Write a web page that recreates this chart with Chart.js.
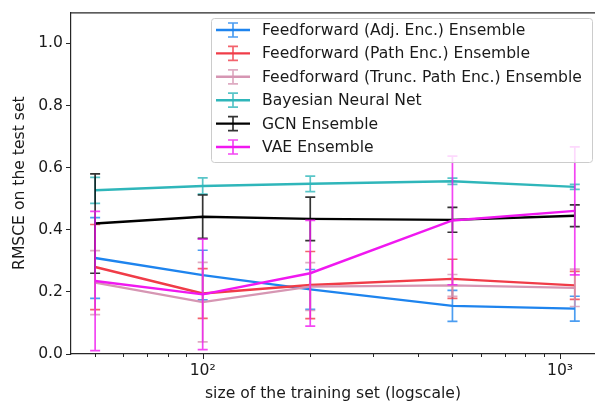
<!DOCTYPE html>
<html>
<head>
<meta charset="utf-8">
<script src="https://cdn.jsdelivr.net/npm/chart.js@4.4.1/dist/chart.umd.min.js"></script>
<style>
  html, body { margin: 0; padding: 0; background: #fff; overflow: hidden; }
  canvas { display: block; }
</style>
</head>
<body>
<canvas id="c" width="595" height="405"></canvas>
<script>
// training set sizes (x positions of every series)
var sizes = [50, 100, 200, 500, 1100];

// mean RMSCE and half-width of the error bar per model
var adjMean   = [0.309, 0.254, 0.208, 0.155, 0.146];
var adjErr    = [0.130, 0.080, 0.064, 0.050, 0.040];
var pathMean  = [0.280, 0.195, 0.222, 0.242, 0.221];
var pathErr   = [0.137, 0.080, 0.108, 0.063, 0.045];
var truncMean = [0.230, 0.167, 0.217, 0.221, 0.213];
var truncErr  = [0.103, 0.128, 0.077, 0.035, 0.060];
var bnnMean   = [0.527, 0.541, 0.548, 0.556, 0.538];
var bnnErr    = [0.042, 0.026, 0.025, 0.010, 0.008];
var gcnMean   = [0.420, 0.442, 0.435, 0.432, 0.445];
var gcnErr    = [0.160, 0.070, 0.070, 0.040, 0.035];
var vaeMean   = [0.235, 0.192, 0.260, 0.430, 0.461];
var vaeErr    = [0.224, 0.178, 0.170, 0.207, 0.206];

var seriesNames = [
  'Feedforward (Adj. Enc.) Ensemble',
  'Feedforward (Path Enc.) Ensemble',
  'Feedforward (Trunc. Path Enc.) Ensemble',
  'Bayesian Neural Net',
  'GCN Ensemble',
  'VAE Ensemble'
];
var seriesMeans = [adjMean, pathMean, truncMean, bnnMean, gcnMean, vaeMean];
var seriesErrs = [adjErr, pathErr, truncErr, bnnErr, gcnErr, vaeErr];
var seriesColors = ['#1e84ee', '#f03c48', '#d696b3', '#2fb6ba', '#000000', '#f018f0'];

// axis ticks
var yTicks = [0, 0.2, 0.4, 0.6, 0.8, 1.0];
var xMajorTicks = [100, 1000];
var xTickLabels = ['10\u00b2', '10\u00b3'];
var xMinorTicks = [50, 60, 70, 80, 90, 200, 300, 400, 500, 600, 700, 800, 900];

var FONT = 'DejaVu Sans';
var TEXT = '#1a1a1a';
var AXIS = '#262626';

Chart.defaults.font.family = FONT;
Chart.defaults.font.size = 15.6;
Chart.defaults.color = TEXT;

var datasets = seriesNames.map(function (name, i) {
  return {
    label: name,
    data: sizes.map(function (s, k) { return {x: s, y: seriesMeans[i][k]}; }),
    errors: seriesErrs[i],
    borderColor: seriesColors[i],
    borderWidth: 2.4,
    pointRadius: 0,
    tension: 0,
    fill: false,
    order: seriesNames.length - i   // later series on top
  };
});

// vertical error bars with caps, drawn just under each series' line
var errorBars = {
  id: 'errorBars',
  beforeDatasetDraw: function (chart, args) {
    var ds = chart.data.datasets[args.index];
    var y = chart.scales.y;
    var ctx = chart.ctx;
    ctx.save();
    ctx.strokeStyle = ds.borderColor;
    ctx.globalAlpha = 0.8;
    ctx.lineWidth = 1.7;
    args.meta.data.forEach(function (pt, k) {
      var m = ds.data[k].y, e = ds.errors[k];
      var top = y.getPixelForValue(m + e), bot = y.getPixelForValue(m - e);
      ctx.beginPath();
      ctx.moveTo(pt.x, top); ctx.lineTo(pt.x, bot);
      ctx.moveTo(pt.x - 5, top); ctx.lineTo(pt.x + 5, top);
      ctx.moveTo(pt.x - 5, bot); ctx.lineTo(pt.x + 5, bot);
      ctx.stroke();
    });
    ctx.restore();
  }
};

// top spine, log-axis tick marks and the in-plot legend
var frame = {
  id: 'frame',
  afterDraw: function (chart) {
    var ctx = chart.ctx, a = chart.chartArea, x = chart.scales.x;
    ctx.save();
    ctx.strokeStyle = AXIS;
    ctx.lineWidth = 1.2;
    ctx.beginPath();
    ctx.moveTo(a.left, a.top + 0.5); ctx.lineTo(a.right, a.top + 0.5);
    ctx.stroke();

    ctx.lineWidth = 1;
    var tick = function (v, len) {
      var px = Math.round(x.getPixelForValue(v)) + 0.5;
      ctx.beginPath();
      ctx.moveTo(px, a.bottom); ctx.lineTo(px, a.bottom + len);
      ctx.stroke();
    };
    xMajorTicks.forEach(function (v) { tick(v, 5); });
    xMinorTicks.forEach(function (v) { tick(v, 3); });

    // legend
    var L = 211, T = 18, R = 592, B = 162, rowH = 23.4, row0 = 30;
    ctx.globalAlpha = 0.8;
    ctx.fillStyle = '#ffffff';
    ctx.strokeStyle = '#cccccc';
    ctx.beginPath();
    ctx.roundRect(L + 0.5, T + 0.5, R - L, B - T, 3);
    ctx.fill();
    ctx.globalAlpha = 1;
    ctx.stroke();

    ctx.font = '15.6px "' + FONT + '"';
    ctx.textBaseline = 'middle';
    ctx.textAlign = 'left';
    chart.data.datasets.forEach(function (ds, i) {
      var cy = row0 + i * rowH, cx = 233;
      ctx.strokeStyle = ds.borderColor;
      ctx.lineWidth = 2.4;
      ctx.beginPath();
      ctx.moveTo(216, cy); ctx.lineTo(250, cy);
      ctx.stroke();
      ctx.globalAlpha = 0.8;
      ctx.lineWidth = 1.7;
      ctx.beginPath();
      ctx.moveTo(cx, cy - 7); ctx.lineTo(cx, cy + 7);
      ctx.moveTo(cx - 5, cy - 7); ctx.lineTo(cx + 5, cy - 7);
      ctx.moveTo(cx - 5, cy + 7); ctx.lineTo(cx + 5, cy + 7);
      ctx.stroke();
      ctx.globalAlpha = 1;
      ctx.fillStyle = TEXT;
      ctx.fillText(ds.label, 262, cy + 1);
    });
    ctx.restore();
  }
};

new Chart(document.getElementById('c'), {
  type: 'line',
  data: {datasets: datasets},
  plugins: [errorBars, frame],
  options: {
    responsive: false,
    animation: false,
    layout: {padding: {top: 10, right: 0, left: 0, bottom: 0}},
    plugins: {legend: {display: false}, tooltip: {enabled: false}},
    scales: {
      x: {
        type: 'logarithmic',
        min: 42.8, max: 1253,
        bounds: 'data',
        afterBuildTicks: function (s) {
          s.ticks = xMajorTicks.map(function (v) { return {value: v, major: true}; });
        },
        afterFit: function (s) { s.height = 51; },
        grid: {display: false, drawTicks: true, tickLength: 5},
        border: {color: AXIS, width: 1.2},
        ticks: {
          color: TEXT, padding: 3, autoSkip: false, maxRotation: 0,
          callback: function (v) {
            var k = xMajorTicks.indexOf(v);
            return k >= 0 ? xTickLabels[k] : '';
          }
        },
        title: {display: true, text: 'size of the training set (logscale)', color: TEXT, padding: 2}
      },
      y: {
        type: 'linear',
        min: 0, max: 1.1,
        bounds: 'data',
        afterBuildTicks: function (s) {
          s.ticks = yTicks.map(function (v) { return {value: v}; });
        },
        afterFit: function (s) { s.width = 71; },
        grid: {drawOnChartArea: false, drawTicks: true, tickLength: 5, tickColor: AXIS, tickWidth: 1},
        border: {color: AXIS, width: 1.2},
        ticks: {
          color: TEXT, padding: 3,
          callback: function (v) { return v.toFixed(1); }
        },
        title: {display: true, text: 'RMSCE on the test set', color: TEXT, padding: 11}
      }
    }
  }
});
</script>
</body>
</html>
